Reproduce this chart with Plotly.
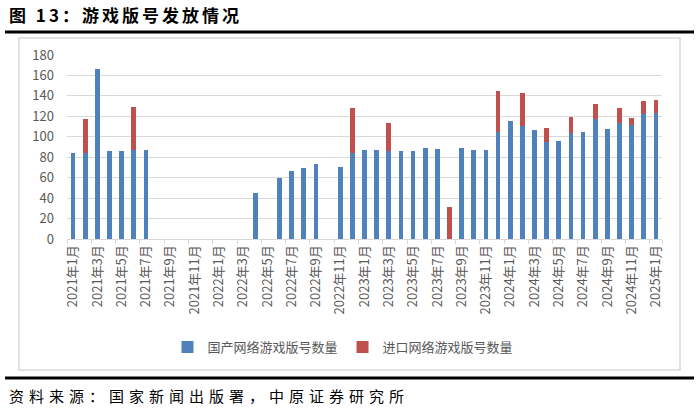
import plotly.graph_objects as go

# ---- data ----
months = []
for y in range(2021, 2026):
    for m in range(1, 13):
        if y == 2025 and m > 1:
            break
        months.append(f"{y}年{m}月")

domestic = [84, 84, 166, 86, 86, 87, 87, 0, 0, 0, 0, 0,
            0, 0, 0, 45, 0, 60, 67, 69, 73, 0, 70, 84,
            87, 87, 86, 86, 86, 89, 88, 0, 89, 87, 87, 105,
            115, 111, 107, 95, 96, 104, 105, 117, 108, 113, 112, 122,
            123]
imports = [0, 33, 0, 0, 0, 42, 0, 0, 0, 0, 0, 0,
           0, 0, 0, 0, 0, 0, 0, 0, 0, 0, 0, 44,
           0, 0, 27, 0, 0, 0, 0, 31, 0, 0, 0, 40,
           0, 32, 0, 14, 0, 15, 0, 15, 0, 15, 6, 13,
           13]
series_names = ["国产网络游戏版号数量", "进口网络游戏版号数量"]
y_ticks = [0, 20, 40, 60, 80, 100, 120, 140, 160, 180]

title_text = "图 13：游戏版号发放情况"
source_text = "资料来源：国家新闻出版署，中原证券研究所"

# ---- layout geometry (pixels) ----
W, H = 699, 409
PL, PR, PT, PB = 67, 662, 55, 239


def px(xp):
    return (xp - PL) / (PR - PL)


def py(yp):
    return (PB - yp) / (PB - PT)


xs = list(range(len(months)))
FONT = "Noto Sans CJK SC"
GRAY = "#595959"

fig = go.Figure()
fig.add_trace(go.Bar(x=xs, y=domestic, name=series_names[0],
                     marker=dict(color="#4F81BD", line=dict(width=0))))
fig.add_trace(go.Bar(x=xs, y=imports, name=series_names[1],
                     marker=dict(color="#C0504D", line=dict(width=0))))

fig.update_layout(
    width=W, height=H,
    margin=dict(l=PL, r=W - PR, t=PT, b=H - PB),
    paper_bgcolor="white", plot_bgcolor="white",
    barmode="stack", bargap=0.62,
    font=dict(family=FONT, color=GRAY, size=13),
    showlegend=True,
    legend=dict(orientation="h", x=px(343), xanchor="center",
                y=py(347), yanchor="middle",
                font=dict(size=13, color=GRAY), itemwidth=30,
                traceorder="normal", tracegroupgap=0),
    xaxis=dict(
        range=[-0.5, len(months) - 0.5],
        tickmode="array", tickvals=xs[::2], ticktext=months[::2],
        tickangle=-90, ticks="", showgrid=False,
        showline=True, linecolor="#d9d9d9", linewidth=1,
        tickfont=dict(size=13, color=GRAY),
        minor=dict(tickmode="array",
                   tickvals=[v - 0.5 for v in xs[::2]] + [len(months) - 0.5],
                   ticks="outside", ticklen=4, tickcolor="#d9d9d9",
                   showgrid=False),
        fixedrange=True,
    ),
    yaxis=dict(
        range=[0, 180], tickmode="array", tickvals=y_ticks,
        showgrid=True, gridcolor="#d9d9d9", gridwidth=1,
        zeroline=False, showline=False, ticks="",
        ticklabelstandoff=12,
        tickfont=dict(size=13, color=GRAY),
        fixedrange=True,
    ),
    shapes=[
        dict(type="rect", xref="paper", yref="paper",
             x0=px(19), x1=px(680), y0=py(370), y1=py(38),
             line=dict(color="#d9d9d9", width=1.5), layer="below"),
        dict(type="line", xref="paper", yref="paper",
             x0=px(5), x1=px(694), y0=py(32), y1=py(32),
             line=dict(color="black", width=3)),
        dict(type="line", xref="paper", yref="paper",
             x0=px(5), x1=px(694), y0=py(378), y1=py(378),
             line=dict(color="black", width=3)),
    ],
    annotations=[
        dict(text=f"<b>{title_text}</b>", xref="paper", yref="paper",
             x=px(7), y=py(15), xanchor="left", yanchor="middle",
             showarrow=False, font=dict(size=17, color="black", family=FONT)),
        dict(text=source_text, xref="paper", yref="paper",
             x=px(7), y=py(395), xanchor="left", yanchor="middle",
             showarrow=False, font=dict(size=15, color="black", family=FONT)),
    ],
)

post = """
var gd = document.getElementById('{plot_id}');
function spaceText() {
  gd.querySelectorAll('.annotation-text').forEach(function (t) {
    if (t.getAttribute('data-spaced')) { return; }
    var s = t.textContent || '';
    var sp = null;
    if (s.indexOf('资料') === 0) { sp = '5px'; }
    else if (s.indexOf('图') === 0) { sp = '3px'; }
    if (!sp) { return; }
    var b0 = t.getBBox();
    t.style.letterSpacing = sp;
    var b1 = t.getBBox();
    var x = parseFloat(t.getAttribute('x') || '0');
    t.setAttribute('x', x + (b0.x - b1.x));
    t.setAttribute('data-spaced', '1');
  });
}
spaceText();
gd.on('plotly_afterplot', spaceText);
"""

fig.write_html("out.html", config={"displayModeBar": False}, post_script=post)
